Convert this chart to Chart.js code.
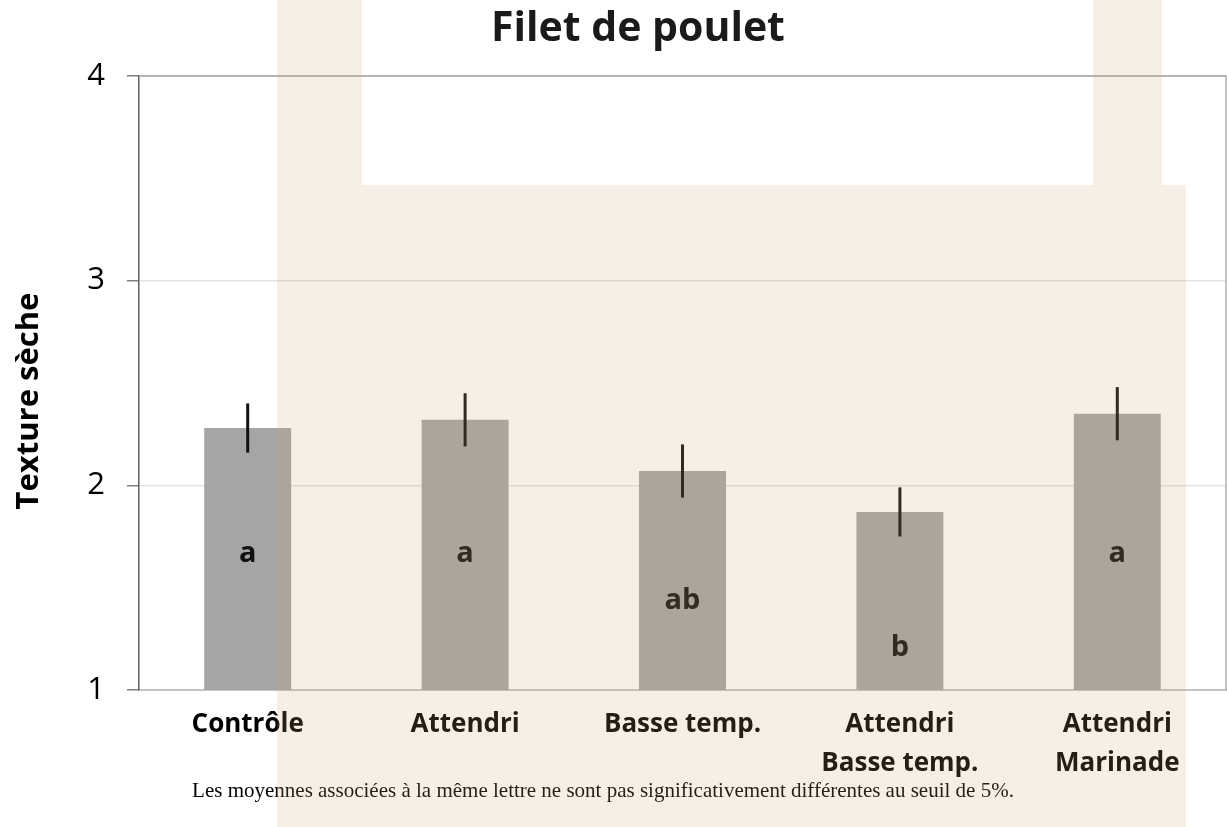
<!DOCTYPE html>
<html>
<head>
<meta charset="utf-8">
<script src="https://cdn.jsdelivr.net/npm/chart.js@4"></script>
<style>
    body { margin: 0; background: #fff; }
    #wrap { width: 1227px; height: 827px; }
</style>
</head>
<body>
<div id="wrap"><canvas id="chart" width="1227" height="827"></canvas></div>
<script>
const categories = ['Contrôle', 'Attendri', 'Basse temp.', ['Attendri', 'Basse temp.'], ['Attendri', 'Marinade']]
const means = [2.28, 2.32, 2.07, 1.87, 2.35]
const errors = [0.12, 0.13, 0.13, 0.12, 0.13]
const letters = ['a', 'a', 'ab', 'b', 'a']
const letterLevels = [1.67, 1.67, 1.44, 1.21, 1.67]
const yTicks = [1, 2, 3, 4]

const titleText = 'Filet de poulet'
const yTitle = 'Texture sèche'
const footnote = 'Les moyennes associées à la même lettre ne sont pas significativement différentes au seuil de 5%.'

// error bars + significance letters, drawn on top of the bars
const extras = {
    id: 'extras',
    afterDatasetsDraw(chart) {
        const ctx = chart.ctx
        const x = chart.scales.x
        const y = chart.scales.y
        ctx.save()
        ctx.strokeStyle = '#111'
        ctx.lineWidth = 3
        for (let i = 0; i < means.length; i++) {
            const px = x.getPixelForValue(i)
            ctx.beginPath()
            ctx.moveTo(px, y.getPixelForValue(means[i] + errors[i]))
            ctx.lineTo(px, y.getPixelForValue(means[i] - errors[i]))
            ctx.stroke()
        }
        ctx.fillStyle = '#111'
        ctx.font = 'bold 29px "Open Sans"'
        ctx.textAlign = 'center'
        ctx.textBaseline = 'middle'
        for (let i = 0; i < letters.length; i++) {
            ctx.fillText(letters[i], x.getPixelForValue(i), y.getPixelForValue(letterLevels[i]) + 1)
        }
        ctx.restore()
    },
    afterDraw(chart) {
        const ctx = chart.ctx
        const area = chart.chartArea
        ctx.save()
        // frame on top and right
        ctx.strokeStyle = '#b0b0b0'
        ctx.lineWidth = 1.5
        ctx.beginPath()
        ctx.moveTo(area.left, area.top)
        ctx.lineTo(area.right, area.top)
        ctx.lineTo(area.right, area.bottom)
        ctx.stroke()

        ctx.fillStyle = '#1a1a1a'
        ctx.font = 'bold 41px "Open Sans"'
        ctx.textAlign = 'center'
        ctx.textBaseline = 'middle'
        ctx.fillText(titleText, 638, 29)

        // y axis title, sits a bit below the middle of the axis
        ctx.save()
        ctx.translate(29, 401)
        ctx.rotate(-Math.PI / 2)
        ctx.fillStyle = '#000'
        ctx.font = 'bold 31px "Open Sans"'
        ctx.fillText(yTitle, 0, 0)
        ctx.restore()

        ctx.fillStyle = '#000'
        ctx.font = '21px "Liberation Serif"'
        ctx.fillText(footnote, 603, 791)

        // slide background tint over the figure
        ctx.fillStyle = 'rgba(212, 166, 112, 0.18)'
        ctx.fillRect(277, 185, 909, 642)
        ctx.fillRect(277, 0, 85, 185)
        ctx.fillRect(1093, 0, 69, 185)
        ctx.restore()
    }
}

new Chart(document.getElementById('chart'), {
    type: 'bar',
    data: {
        labels: categories,
        datasets: [{
            data: means,
            backgroundColor: '#a5a5a5',
            barPercentage: 0.4,
            categoryPercentage: 1
        }]
    },
    options: {
        responsive: false,
        animation: false,
        layout: { padding: { top: 76, right: 1, left: 0, bottom: 0 } },
        plugins: {
            legend: { display: false },
            tooltip: { enabled: false },
            title: { display: false }
        },
        scales: {
            x: {
                grid: { display: false },
                border: { color: '#c4c4c4', width: 2 },
                ticks: {
                    color: '#000',
                    font: { family: 'Open Sans', size: 26, weight: 'bold', lineHeight: 1.5 },
                    padding: 7,
                    maxRotation: 0,
                    autoSkip: false
                },
                afterFit(scale) { scale.height = 137 }
            },
            y: {
                min: 1,
                max: 4,
                afterBuildTicks(scale) { scale.ticks = yTicks.map(v => ({ value: v })) },
                grid: {
                    color: ctx => ctx.tick && ctx.tick.value === 4 ? '#b0b0b0' : '#e3e3e3',
                    tickColor: '#808080',
                    tickLength: 12,
                    lineWidth: 1.5
                },
                border: { color: '#606060', width: 1.5 },
                ticks: {
                    color: '#000',
                    font: { family: 'Open Sans', size: 31 },
                    padding: 22
                },
                afterFit(scale) { scale.width = 139 }
            }
        }
    },
    plugins: [extras]
})
</script>
</body>
</html>
